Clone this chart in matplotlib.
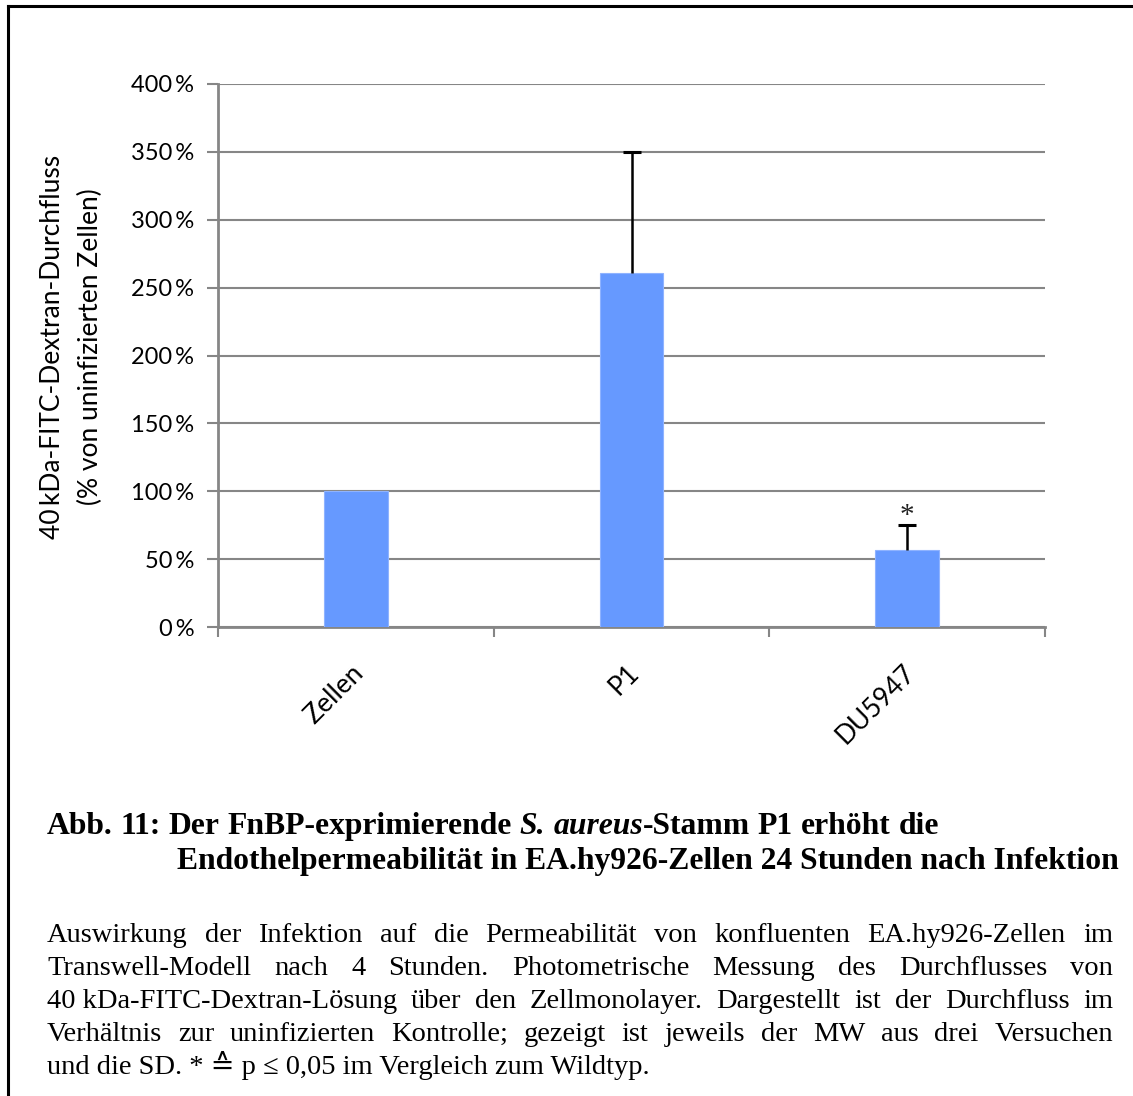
import matplotlib
matplotlib.use("Agg")
import matplotlib.pyplot as plt
from matplotlib.lines import Line2D
import numpy as np

# Data
categories = ["Zellen", "P1", "DU5947"]
means = [100, 261, 57]          # % of uninfected cells
sd_upper = [0, 89, 18]          # SD (upper whisker only)
significant = [False, False, True]
y_ticks = [0, 50, 100, 150, 200, 250, 300, 350, 400]

title_line1 = [("Abb. 11: Der FnBP-exprimierende ", "normal"),
               ("S. aureus", "italic"),
               ("-Stamm P1 erhöht die", "normal")]
title_line2 = "Endothelpermeabilität in EA.hy926-Zellen 24 Stunden nach Infektion"
body_lines = [
    ["Auswirkung", "der", "Infektion", "auf", "die", "Permeabilität", "von",
     "konfluenten", "EA.hy926-Zellen", "im"],
    ["Transwell-Modell", "nach", "4", "Stunden.", "Photometrische", "Messung",
     "des", "Durchflusses", "von"],
    ["40 kDa-FITC-Dextran-Lösung", "über", "den", "Zellmonolayer.", "Dargestellt",
     "ist", "der", "Durchfluss", "im"],
    ["Verhältnis", "zur", "uninfizierten", "Kontrolle;", "gezeigt", "ist", "jeweils",
     "der", "MW", "aus", "drei", "Versuchen"],
]
body_last = "und die SD. * \u2259 p \u2264 0,05 im Vergleich zum Wildtyp."

W, H = 1133, 1096
fig = plt.figure(figsize=(W / 100, H / 100), dpi=100)
fig.patch.set_facecolor("white")

sans = ["Lato", "DejaVu Sans"]
serif = ["Liberation Serif", "DejaVu Serif", "DejaVu Sans"]
grid_col = "#868686"

ax = fig.add_axes([218 / W, 1 - 627 / H, (1045 - 218) / W, (627 - 84) / H])
x = np.arange(len(categories))
ax.bar(x, means, width=0.23, color="#6699FF", edgecolor="#8FB3FF", linewidth=0.8, zorder=3)

for xi, m, s, sig in zip(x, means, sd_upper, significant):
    if s > 0:
        ax.plot([xi, xi], [m, m + s], color="black", linewidth=1.8,
                solid_capstyle="butt", zorder=4)
        ax.plot([xi], [m + s], marker="_", markersize=13, markeredgewidth=2.2,
                color="black", zorder=4)
    if sig:
        ax.text(xi, m + s + 7, "*", ha="center", va="center",
                fontsize=21, family=serif, color="#222222", zorder=5)

ax.set_xlim(-0.5, len(categories) - 0.5)
ax.set_ylim(0, 400)
ax.set_yticks(y_ticks)
ax.set_yticklabels([f"{t}\u2009%" for t in y_ticks], family=sans, fontsize=17)
ax.yaxis.grid(True, color=grid_col, linewidth=1.5, zorder=0)
ax.set_axisbelow(True)
for side in ["top", "right"]:
    ax.spines[side].set_visible(False)
for side in ["left", "bottom"]:
    ax.spines[side].set_color(grid_col)
    ax.spines[side].set_linewidth(2)
ax.tick_params(axis="y", length=8, width=1.5, color=grid_col, pad=9)
ax.set_xticks(np.arange(len(categories) + 1) - 0.5, minor=False)
ax.set_xticklabels([])
ax.tick_params(axis="x", length=7, width=1.5, color=grid_col)
for xi, c in zip(x, categories):
    ax.annotate(c, xy=(xi, 0), xycoords=("data", "axes fraction"),
                xytext=(3, -30), textcoords="offset points",
                rotation=45, ha="right", va="center", rotation_mode="anchor",
                fontsize=19, family=sans)

fig.text(53 / W, 1 - 347 / H, "40\u2009kDa-FITC-Dextran-Durchfluss", rotation=90,
         ha="center", va="center", fontsize=19, family=sans)
fig.text(90 / W, 1 - 347 / H, "(% von uninfizierten Zellen)", rotation=90,
         ha="center", va="center", fontsize=19, family=sans)

# Frame lines (left and top)
fig.add_artist(Line2D([8 / W, 8 / W], [0, 1 - 6 / H], transform=fig.transFigure,
                      color="black", linewidth=2.2))
fig.add_artist(Line2D([8 / W, 1], [1 - 6 / H, 1 - 6 / H], transform=fig.transFigure,
                      color="black", linewidth=2.2))

renderer = fig.canvas.get_renderer()


def text_width(s, **kw):
    t = fig.text(0, 0, s, **kw)
    w = t.get_window_extent(renderer).width
    t.remove()
    return w


# Caption title
tfs = 22.8
tkw = dict(fontsize=tfs, family=serif, weight="bold")
space_w = text_width("a a", **tkw) - text_width("aa", **tkw)
xpos = 47
for seg, style in title_line1:
    segs = seg.split(" ")
    for i, part in enumerate(segs):
        if part:
            fig.text(xpos / W, 1 - 834 / H, part, style=style, va="baseline", **tkw)
            xpos += text_width(part, style=style, **tkw)
        if i < len(segs) - 1:
            xpos += space_w
fig.text(177 / W, 1 - 869 / H, title_line2, va="baseline", **tkw)

# Caption body, justified
bfs = 20.5
bkw = dict(fontsize=bfs, family=serif)
x0, x1 = 47, 1113
base_y = 942
lh = 33
for li, words in enumerate(body_lines):
    widths = [text_width(w_, **bkw) for w_ in words]
    gap = (x1 - x0 - sum(widths)) / (len(words) - 1)
    xp = x0
    for w_, wd in zip(words, widths):
        fig.text(xp / W, 1 - (base_y + li * lh) / H, w_, va="baseline", **bkw)
        xp += wd + gap
fig.text(x0 / W, 1 - (base_y + 4 * lh) / H, body_last, va="baseline", **bkw)

fig.savefig("out.png", dpi=100, facecolor="white")
